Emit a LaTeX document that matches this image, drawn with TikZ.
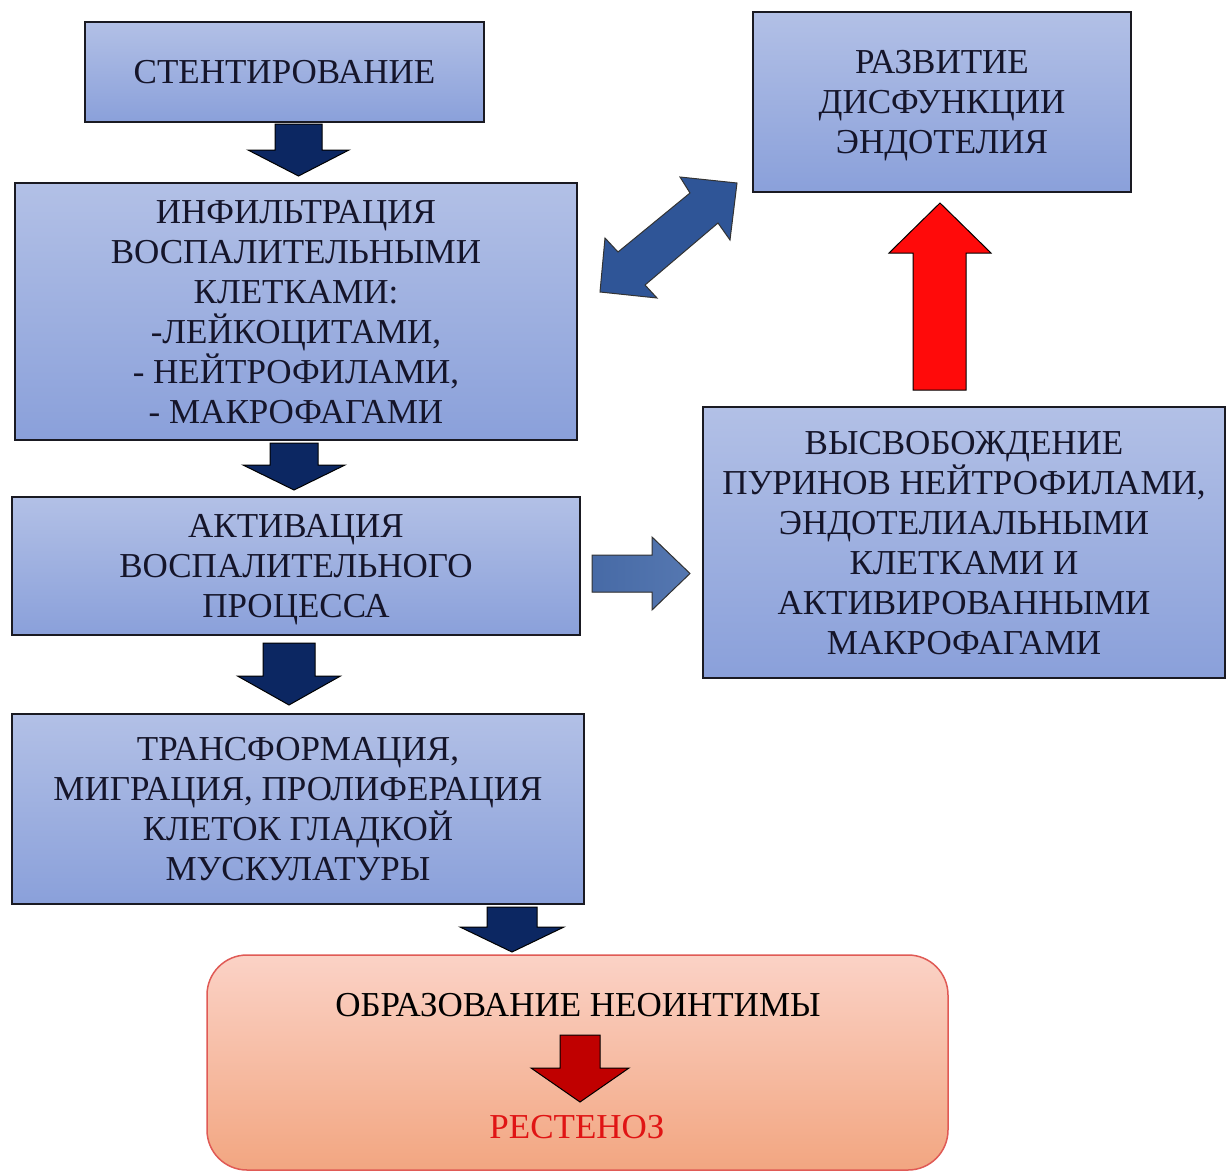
\documentclass[tikz,border=0pt]{standalone}
\usepackage{fontspec}
\setmainfont{Liberation Serif}
\definecolor{boxtop}{HTML}{B2C0E6}
\definecolor{boxbot}{HTML}{8AA0DA}
\definecolor{boxline}{HTML}{1A1A22}
\definecolor{txt}{HTML}{15152A}
\definecolor{navy}{HTML}{0C2762}
\definecolor{midblue}{HTML}{2F5597}
\definecolor{rtblue}{HTML}{4C70AC}
\definecolor{saltop}{HTML}{FBD2C6}
\definecolor{salbot}{HTML}{F2A681}
\definecolor{salline}{HTML}{E05A55}
\definecolor{restred}{HTML}{E01414}
\definecolor{arrred}{HTML}{FF0A0A}
\definecolor{darkred}{HTML}{C00000}
\newcommand\blkdown[7]{% cx, ytop, yneck, ytip, shafthalf, headhalf, colour
  \filldraw[fill=#7, draw=black, line width=1pt, line join=miter]
    (#1-#5,#2) -- (#1+#5,#2) -- (#1+#5,#3) -- (#1+#6,#3) -- (#1,#4)
    -- (#1-#6,#3) -- (#1-#5,#3) -- cycle;}
\tikzset{
  stepbox/.style={draw=boxline, line width=1.5pt, top color=boxtop, bottom color=boxbot,
    inner sep=0pt, align=center, text=txt, text depth=0pt, font=\fontsize{35}{40}\selectfont},
}
\begin{document}
\begin{tikzpicture}[x=1pt,y=-1pt]
\useasboundingbox (0,0) rectangle (1227,1173);
\fill[white] (0,0) rectangle (1227,1173);

% boxes
\node[stepbox, minimum width=399pt, minimum height=100pt] (b1) at (284.5,72) {СТЕНТИРОВАНИЕ};
\node[stepbox, minimum width=562pt, minimum height=257pt] (b2) at (296,311.5)
  {ИНФИЛЬТРАЦИЯ\\ВОСПАЛИТЕЛЬНЫМИ\\КЛЕТКАМИ:\\-ЛЕЙКОЦИТАМИ,\\- НЕЙТРОФИЛАМИ,\\- МАКРОФАГАМИ};
\node[stepbox, minimum width=568pt, minimum height=138pt] (b3) at (296,566)
  {АКТИВАЦИЯ\\ВОСПАЛИТЕЛЬНОГО\\ПРОЦЕССА};
\node[stepbox, minimum width=572pt, minimum height=190pt] (b4) at (298,809)
  {ТРАНСФОРМАЦИЯ,\\МИГРАЦИЯ, ПРОЛИФЕРАЦИЯ\\КЛЕТОК ГЛАДКОЙ\\МУСКУЛАТУРЫ};
\node[stepbox, minimum width=378pt, minimum height=180pt] (b6) at (942,102)
  {РАЗВИТИЕ\\ДИСФУНКЦИИ\\ЭНДОТЕЛИЯ};
\node[stepbox, minimum width=522pt, minimum height=271pt] (b7) at (964,542.5)
  {ВЫСВОБОЖДЕНИЕ\\ПУРИНОВ НЕЙТРОФИЛАМИ,\\ЭНДОТЕЛИАЛЬНЫМИ\\КЛЕТКАМИ И\\АКТИВИРОВАННЫМИ\\МАКРОФАГАМИ};

% result box
\node[draw=salline, line width=1.5pt, top color=saltop, bottom color=salbot,
  rounded corners=40pt, minimum width=741pt, minimum height=215pt, inner sep=0pt]
  (b5) at (577.5,1062.5) {};
\node[text=black, font=\fontsize{35}{40}\selectfont, inner sep=0pt, text depth=0pt] (t5) at (578,1005) {ОБРАЗОВАНИЕ НЕОИНТИМЫ};
\node[text=restred, font=\fontsize{35}{40}\selectfont, inner sep=0pt, text depth=0pt] (t6) at (577,1127) {РЕСТЕНОЗ};

% down arrows
\blkdown{298.5}{124}{150}{176}{23.5}{50.5}{navy}
\blkdown{294}{443}{465}{490}{24}{51}{navy}
\blkdown{289}{643}{676}{705}{26}{51.5}{navy}
\blkdown{512}{907}{927}{952}{25}{52}{navy}
\blkdown{580}{1035}{1068}{1102}{20}{49}{darkred}

% red up arrow
\filldraw[fill=arrred, draw=black, line width=1pt]
  (913,390) -- (966,390) -- (966,253) -- (991,253) -- (940,203) -- (889,253) -- (913,253) -- cycle;

% right arrow
\filldraw[left color=rtblue!92!navy, right color=rtblue!95!white, draw=black!80, line width=1pt]
  (592,555) -- (652,555) -- (652,537) -- (690,573.5) -- (652,610) -- (652,592) -- (592,592) -- cycle;

% double arrow
\filldraw[fill=midblue, draw=black!80, line width=1pt, line join=miter]
  (600,292) -- (605,238) -- (618,252) -- (690,193) -- (680,177) -- (737,183)
  -- (730,240) -- (718,223) -- (645,285) -- (657,298) -- cycle;
\end{tikzpicture}
\end{document}
